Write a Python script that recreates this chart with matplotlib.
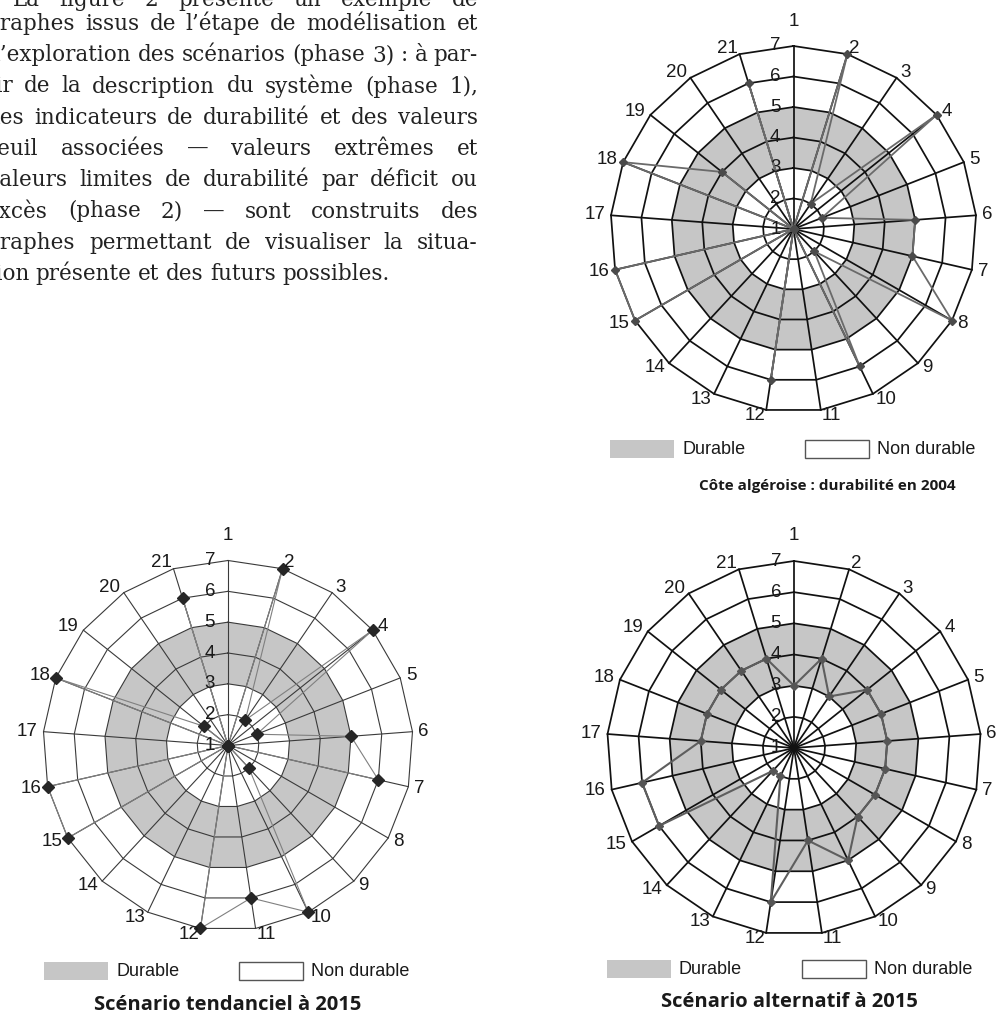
import matplotlib.pyplot as plt
import numpy as np
from matplotlib.patches import Rectangle

W, H = 999, 1024

# indicators 1..21, radial scale 1..7, "durable" band between 3 and 5
spokes = [str(i) for i in range(1, 22)]
ring_values = [1, 2, 3, 4, 5, 6, 7]
durable_band = (3, 5)

cote_2004 = [1, 7, 2, 7, 2, 5, 5, 7, 2, 6, 1, 6, 1, 1, 7, 7, 1, 7, 4, 1, 6]
tendanciel_2015 = [1, 7, 2, 7, 2, 5, 6, 1, 2, 7, 6, 7, 1, 1, 7, 7, 1, 7, 2, 1, 6]
alternatif_2015 = [3, 4, 3, 4, 4, 4, 4, 4, 4, 5, 4, 6, 2, 2, 6, 6, 4, 4, 4, 4, 4]

titles = ["Côte algéroise : durabilité en 2004",
          "Scénario tendanciel à 2015",
          "Scénario alternatif à 2015"]
legend_labels = ["Durable", "Non durable"]

paragraph = [
    "La figure 2 présente un exemple de",
    "graphes issus de l’étape de modélisation et",
    "d’exploration des scénarios (phase 3) : à par-",
    "tir de la description du système (phase 1),",
    "des indicateurs de durabilité et des valeurs",
    "seuil associées — valeurs extrêmes et",
    "valeurs limites de durabilité par déficit ou",
    "excès (phase 2) — sont construits des",
    "graphes permettant de visualiser la situa-",
    "tion présente et des futurs possibles.",
]

GRAY = "#c6c6c6"
SANS = ["Liberation Sans", "DejaVu Sans"]
TITLE = ["Open Sans", "DejaVu Sans"]

fig = plt.figure(figsize=(W / 100, H / 100), dpi=100)


def fx(x):
    return x / W


def fy(y):
    return 1 - y / H


def radar(cx, cy, R, values, grid_color, grid_lw, line_color, line_lw,
          marker_color, ms, title, title_y, title_size, leg_y, leg_x0):
    ax = fig.add_axes([fx(cx - R), fy(cy + R), 2 * R / W, 2 * R / H],
                      projection="polar")
    ax.set_theta_zero_location("N")
    ax.set_theta_direction(-1)
    ax.set_ylim(1, 7)
    ax.axis("off")

    n = len(spokes)
    theta = np.arange(n) * 2 * np.pi / n
    closed = np.append(theta, theta[0])

    # durable band
    lo, hi = durable_band
    ax.fill(np.concatenate([closed, closed[::-1]]),
            np.concatenate([np.full(n + 1, hi), np.full(n + 1, lo)]),
            color=GRAY, lw=0, zorder=0, clip_on=False)

    # grid
    for v in ring_values[1:]:
        ax.plot(closed, np.full(n + 1, v), color=grid_color, lw=grid_lw,
                zorder=1, clip_on=False)
    for t in theta:
        ax.plot([t, t], [1, 7], color=grid_color, lw=grid_lw, zorder=1,
                clip_on=False)

    # series
    vals = np.append(values, values[0])
    ax.plot(closed, vals, color=line_color, lw=line_lw, zorder=2,
            clip_on=False)
    ax.plot(theta, values, ls="none", marker="D", ms=ms, color=marker_color,
            zorder=3, clip_on=False)

    # category labels
    for t, lab in zip(theta, spokes):
        s, c = np.sin(t), np.cos(t)
        if abs(s) < 0.1:
            ax.annotate(lab, (t, 7), xytext=(0, 25), textcoords="offset pixels",
                        ha="center", va="center", fontsize=13.5, family=SANS,
                        color="#1a1a1a", annotation_clip=False)
        else:
            ax.annotate(lab, (t, 7), xytext=(6 * s, 6 * c),
                        textcoords="offset pixels",
                        ha="left" if s > 0 else "right", va="center",
                        fontsize=13.5, family=SANS, color="#1a1a1a",
                        annotation_clip=False)

    # radial labels
    for v in ring_values:
        ax.annotate(str(v), (0, v), xytext=(-13, 0), textcoords="offset pixels",
                    ha="right", va="center", fontsize=13.5, family=SANS,
                    color="#1a1a1a", annotation_clip=False, zorder=5)

    # legend
    fig.patches.append(Rectangle((fx(leg_x0), fy(leg_y + 9)), 64 / W, 18 / H,
                                 transform=fig.transFigure, facecolor=GRAY,
                                 edgecolor="none"))
    fig.text(fx(leg_x0 + 72), fy(leg_y), legend_labels[0], fontsize=13,
             family=SANS, color="#1a1a1a", va="center", ha="left")
    fig.patches.append(Rectangle((fx(leg_x0 + 195), fy(leg_y + 9)), 64 / W,
                                 18 / H, transform=fig.transFigure,
                                 facecolor="white", edgecolor="#555555",
                                 lw=1.0))
    fig.text(fx(leg_x0 + 267), fy(leg_y), legend_labels[1], fontsize=13,
             family=SANS, color="#1a1a1a", va="center", ha="left")

    fig.text(fx(cx + title[1]), fy(title_y), title[0], fontsize=title_size,
             family=TITLE, weight="bold", color="#1a1a1a",
             ha="center", va="center")


radar(793.5, 229, 183, cote_2004, "#111111", 1.25, "#6a6a6a", 1.3,
      "#4a4a4a", 4.5, (titles[0], 34), 486, 11, 449, 610)
radar(228, 745.5, 185, tendanciel_2015, "#3a3a3a", 0.8, "#808080", 0.8,
      "#262626", 6, (titles[1], 0), 1005, 14.5, 971, 44)
radar(794, 748, 187, alternatif_2015, "#111111", 1.25, "#5e5e5e", 1.5,
      "#555555", 4.5, (titles[2], -5), 1002, 14.5, 969, 607)

# justified paragraph (cut at the left edge like the scan)
fig.canvas.draw()
renderer = fig.canvas.get_renderer()
left, right = -13, 478
baselines = [6] + [30 + 31.25 * i for i in range(9)]
for i, (line, base) in enumerate(zip(paragraph, baselines)):
    words = line.split(" ")
    arts = [fig.text(0, fy(base), w, fontsize=15.5, family="DejaVu Serif",
                     color="#222222", va="baseline", ha="left")
            for w in words]
    widths = [a.get_window_extent(renderer).width for a in arts]
    x0 = left + (26 if i == 0 else 0)
    if i == len(paragraph) - 1:
        gap = 6.5
    else:
        gap = (right - x0 - sum(widths)) / (len(words) - 1)
    x = x0
    for a, w in zip(arts, widths):
        a.set_x(fx(x))
        x += w + gap

fig.savefig("out.png", dpi=100)
